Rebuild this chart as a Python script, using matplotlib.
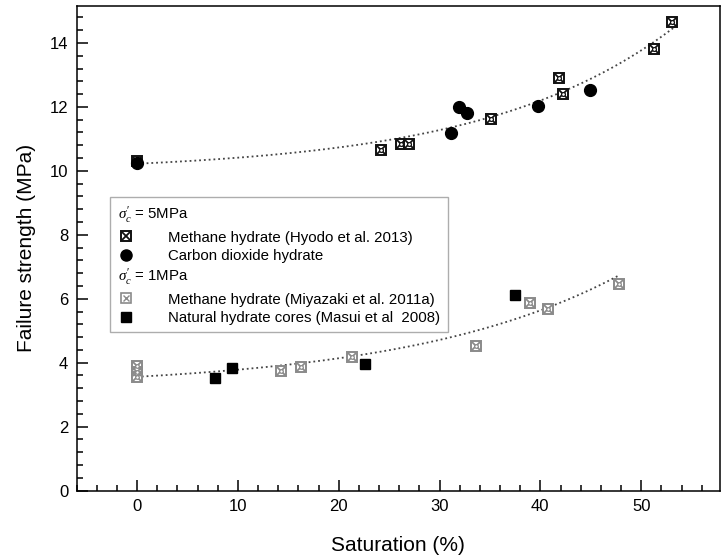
import numpy as np
import matplotlib; matplotlib.use('Agg')
import matplotlib.pyplot as plt
from matplotlib.lines import Line2D
from matplotlib.ticker import MultipleLocator

plt.rcParams.update({
    'font.family': ['Liberation Sans', 'DejaVu Sans'], 'font.size': 12,
    'mathtext.fontset': 'custom', 'mathtext.it': 'Liberation Serif:italic',
    'mathtext.rm': 'Liberation Sans',
})

# sigma'c = 5 MPa
hyodo_x = [0, 24.2, 26.2, 27.0, 35.1, 41.8, 42.2, 51.3, 53.1]
hyodo_y = [10.3, 10.65, 10.84, 10.84, 11.61, 12.91, 12.40, 13.81, 14.65]
co2_x = [0, 31.1, 31.9, 32.7, 39.8, 44.9]
co2_y = [10.26, 11.17, 12.01, 11.82, 12.03, 12.53]
# sigma'c = 1 MPa
miya_x = [0, 0, 0, 14.3, 16.3, 21.3, 33.6, 39.0, 40.8, 47.8]
miya_y = [3.9, 3.7, 3.55, 3.74, 3.88, 4.17, 4.52, 5.86, 5.67, 6.46]
core_x = [7.7, 9.4, 22.6, 37.5]
core_y = [3.51, 3.82, 3.95, 6.12]

def expfit(x, y):
    # y = a + b*exp(k*x), k by grid search, a,b by least squares
    x = np.asarray(x); y = np.asarray(y); best = None
    for k in np.linspace(0.01, 0.12, 221):
        A = np.column_stack([np.ones_like(x), np.exp(k*x)])
        c, *_ = np.linalg.lstsq(A, y, rcond=None)
        r = np.sum((A @ c - y)**2)
        if best is None or r < best[0]: best = (r, k, c)
    return best[1], best[2]

fig = plt.figure(figsize=(7.22, 5.60), dpi=100)
ax = fig.add_axes([0.106, 0.124, 0.891, 0.865])

# dotted trend lines (exponential fits of the data)
for xs, ys, xmax in [(hyodo_x + co2_x, hyodo_y + co2_y, 53.2), (miya_x + core_x, miya_y + core_y, 47.8)]:
    k, c = expfit(xs, ys)
    xx = np.linspace(0, xmax, 200)
    ax.plot(xx, c[0] + c[1]*np.exp(k*xx), ':', color='#444444', lw=1.3, zorder=1)

def xsq(x, y, ec, ms, z):
    ax.plot(x, y, 's', ms=ms, mfc='white', mec=ec, mew=1.4, ls='none', zorder=z)
    ax.plot(x, y, 'x', ms=ms*0.8, mec=ec, mew=1.3, ls='none', zorder=z)
    ax.plot(x, y, 'o', ms=ms*0.4, mfc='white', mec=ec, mew=0.9, ls='none', zorder=z)

xsq(hyodo_x, hyodo_y, '#111111', 7, 3)
ax.plot(co2_x, co2_y, 'o', ms=8.5, color='black', ls='none', zorder=4)
xsq(miya_x, miya_y, '#8a8a8a', 6.5, 3)
ax.plot(core_x, core_y, 's', ms=7.5, color='black', ls='none', zorder=4)

ax.set_xlim(-6, 57.8); ax.set_ylim(0, 15.15)
ax.xaxis.set_major_locator(MultipleLocator(10)); ax.xaxis.set_minor_locator(MultipleLocator(2))
ax.yaxis.set_major_locator(MultipleLocator(2)); ax.yaxis.set_minor_locator(MultipleLocator(0.4))
ax.tick_params(which='both', direction='in', top=False, right=False, width=1.1, labelsize=12)
ax.tick_params(which='major', length=8, pad=6)
ax.tick_params(which='minor', length=4.5)
for s in ax.spines.values(): s.set_linewidth(1.1)
ax.set_xlabel('Saturation (%)', fontsize=15, labelpad=16)
ax.set_ylabel('Failure strength (MPa)', fontsize=15, labelpad=10)

blank = Line2D([], [], ls='none')
h_hy = (Line2D([], [], marker='s', ms=7, mfc='white', mec='#111111', mew=1.4, ls='none'),
        Line2D([], [], marker='x', ms=5.6, mec='#111111', mew=1.3, ls='none'))
h_co = Line2D([], [], marker='o', ms=8, color='black', ls='none')
h_mi = (Line2D([], [], marker='s', ms=6.5, mfc='white', mec='#8a8a8a', mew=1.2, ls='none'),
        Line2D([], [], marker='x', ms=5, mec='#8a8a8a', mew=1.0, ls='none'))
h_na = Line2D([], [], marker='s', ms=7, color='black', ls='none')
labels = [r"$\sigma_c'$ = 5MPa", 'Methane hydrate (Hyodo et al. 2013)', 'Carbon dioxide hydrate',
          r"$\sigma_c'$ = 1MPa", 'Methane hydrate (Miyazaki et al. 2011a)',
          'Natural hydrate cores (Masui et al  2008)']
leg = ax.legend([blank, h_hy, h_co, blank, h_mi, h_na], labels, loc='upper left',
                bbox_to_anchor=(0.052, 0.605), fontsize=10.8, frameon=True, fancybox=False,
                edgecolor='#999999', handlelength=1.2, handletextpad=2.2,
                labelspacing=0.28, borderpad=0.5, borderaxespad=0)
for i in (0, 3):
    leg.get_texts()[i].set_position((-50, 0))
fig.savefig('out.png', dpi=100)
